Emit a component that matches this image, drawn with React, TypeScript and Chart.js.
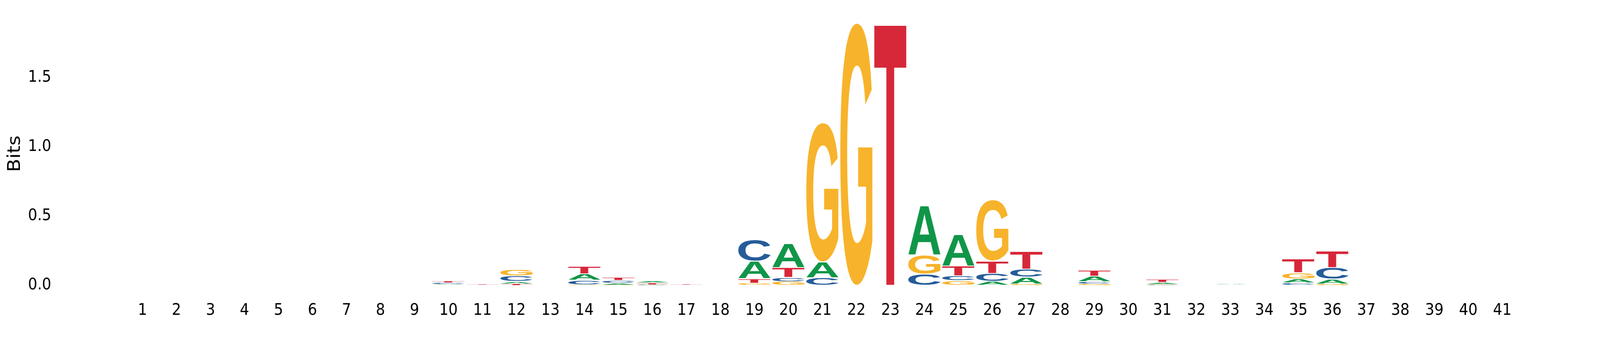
import { useEffect, useRef } from 'react'
import { Chart, registerables } from 'chart.js'
Chart.register(...registerables)

// sequence positions along the x axis
const positions = [
    '1', '2', '3', '4', '5', '6', '7', '8', '9', '10',
    '11', '12', '13', '14', '15', '16', '17', '18', '19', '20',
    '21', '22', '23', '24', '25', '26', '27', '28', '29', '30',
    '31', '32', '33', '34', '35', '36', '37', '38', '39', '40', '41',
]

// information content (bits) per base, one value per position
const bitsA = [
    0, 0, 0, 0, 0, 0, 0, 0, 0, 0.007,
    0.001, 0.018, 0, 0.046, 0.012, 0.014, 0.001, 0, 0.126, 0.173,
    0.114, 0, 0, 0.355, 0.228, 0.029, 0.049, 0, 0.041, 0,
    0.013, 0, 0.008, 0, 0.028, 0.035, 0, 0, 0, 0, 0,
]
const bitsC = [
    0, 0, 0, 0, 0, 0, 0, 0, 0, 0.009,
    0.001, 0.040, 0, 0.032, 0.020, 0.003, 0.001, 0, 0.154, 0.029,
    0.054, 0, 0, 0.082, 0.035, 0.057, 0.058, 0, 0.017, 0,
    0.004, 0, 0.002, 0, 0.018, 0.083, 0, 0, 0, 0, 0,
]
const bitsG = [
    0, 0, 0, 0, 0, 0, 0, 0, 0, 0.002,
    0.001, 0.049, 0, 0.004, 0.003, 0.003, 0.001, 0, 0.016, 0.027,
    1.008, 1.897, 0, 0.137, 0.033, 0.444, 0.010, 0, 0.009, 0,
    0.004, 0, 0.002, 0, 0.044, 0.010, 0, 0, 0, 0, 0,
]
const bitsT = [
    0, 0, 0, 0, 0, 0, 0, 0, 0, 0.011,
    0.008, 0.010, 0, 0.054, 0.024, 0.012, 0.008, 0, 0.031, 0.071,
    0, 0, 1.897, 0, 0.071, 0.090, 0.131, 0, 0.043, 0,
    0.026, 0, 0.002, 0, 0.100, 0.119, 0, 0, 0, 0, 0,
]

const yTicks = [0, 0.5, 1.0, 1.5]

const bases = ['A', 'C', 'G', 'T']
const baseBits = [bitsA, bitsC, bitsG, bitsT]
const baseColors: Record<string, string> = {
    A: '#109648',
    C: '#255C99',
    G: '#F7B32B',
    T: '#D62839',
}

// smallest letter at the bottom of each stack
const columns = positions.map((_, i) =>
    bases
        .map((b, k) => ({ base: b, bits: baseBits[k][i] }))
        .sort((p, q) => p.bits - q.bits)
)

// stretch each glyph's ink box over its (invisible) stacked bar
const letterPlugin = {
    id: 'logoLetters',
    afterDatasetsDraw(chart: any) {
        const ctx: CanvasRenderingContext2D = chart.ctx
        ctx.save()
        ctx.font = 'bold 200px "Liberation Sans"'
        ctx.textBaseline = 'alphabetic'
        ctx.textAlign = 'left'
        chart.data.datasets.forEach((ds: any, di: number) => {
            const meta = chart.getDatasetMeta(di)
            meta.data.forEach((el: any, i: number) => {
                const letter = ds.letters[i]
                const { x, y, base, width } = el.getProps(['x', 'y', 'base', 'width'], true)
                let top = Math.min(y, base)
                let bottom = Math.max(y, base)
                if (bottom - top < 0.05) return
                const pad = bottom - top > 5 ? 1.2 : (bottom - top) * 0.2
                top += pad
                bottom -= pad
                const m = ctx.measureText(letter)
                const inkW = m.actualBoundingBoxLeft + m.actualBoundingBoxRight
                const inkH = m.actualBoundingBoxAscent + m.actualBoundingBoxDescent
                ctx.save()
                ctx.translate(x - width / 2, top)
                ctx.scale(width / inkW, (bottom - top) / inkH)
                ctx.fillStyle = baseColors[letter]
                ctx.fillText(letter, m.actualBoundingBoxLeft, m.actualBoundingBoxAscent)
                ctx.restore()
            })
        })
        ctx.restore()
    },
}

const tickFont = { family: '"DejaVu Sans"', size: 41 }

export default function App() {
    const canvasRef = useRef<HTMLCanvasElement>(null)
    const chartRef = useRef<Chart | null>(null)

    useEffect(() => {
        if (!canvasRef.current) return
        const ctx = canvasRef.current.getContext('2d')!

        chartRef.current?.destroy()
        chartRef.current = new Chart(ctx, {
            type: 'bar',
            data: {
                labels: positions,
                datasets: [0, 1, 2, 3].map(r => ({
                    label: 'layer ' + r,
                    data: columns.map(c => c[r].bits),
                    letters: columns.map(c => c[r].base),
                    backgroundColor: 'rgba(0,0,0,0)',
                    borderWidth: 0,
                    barPercentage: 0.95,
                    categoryPercentage: 1,
                })) as any,
            },
            options: {
                responsive: false,
                devicePixelRatio: 1,
                animation: false,
                layout: { padding: { top: 729.5 - 1.9 * 354, right: 227, bottom: 0, left: 0 } },
                plugins: { legend: { display: false }, tooltip: { enabled: false } },
                scales: {
                    x: {
                        stacked: true,
                        offset: true,
                        grid: { display: false, drawTicks: false },
                        border: { display: false },
                        ticks: { color: '#000', font: tickFont, padding: 40, maxRotation: 0, autoSkip: false },
                        afterFit: (s: any) => {
                            s.height = 170.5
                            s.paddingLeft = 0
                            s.paddingRight = 0
                        },
                    },
                    y: {
                        stacked: true,
                        min: 0,
                        max: 1.9,
                        grid: { display: false, drawTicks: false },
                        border: { display: false },
                        afterBuildTicks: (s: any) => { s.ticks = yTicks.map(v => ({ value: v })) },
                        ticks: {
                            color: '#000',
                            font: tickFont,
                            padding: 209,
                            callback: (v: any) => Number(v).toFixed(1),
                        },
                        title: {
                            display: true,
                            text: 'Bits',
                            color: '#000',
                            font: { family: '"DejaVu Sans"', size: 50 },
                            padding: { top: 13, bottom: 0 },
                        },
                        afterFit: (s: any) => {
                            s.width = 353
                            // the big label padding must not push the plot area down
                            s.paddingTop = 0
                            s.paddingBottom = 0
                        },
                    },
                },
            },
            plugins: [letterPlugin],
        })
        return () => chartRef.current?.destroy()
    }, [])

    return (
        <div style={{ position: 'fixed', left: 0, top: 0, width: '100vw', height: '100vh', overflow: 'hidden', background: '#fff' }}>
            <canvas ref={canvasRef} width={4500} height={900} style={{ display: 'block', width: '100%', height: '100%' }} />
        </div>
    )
}
